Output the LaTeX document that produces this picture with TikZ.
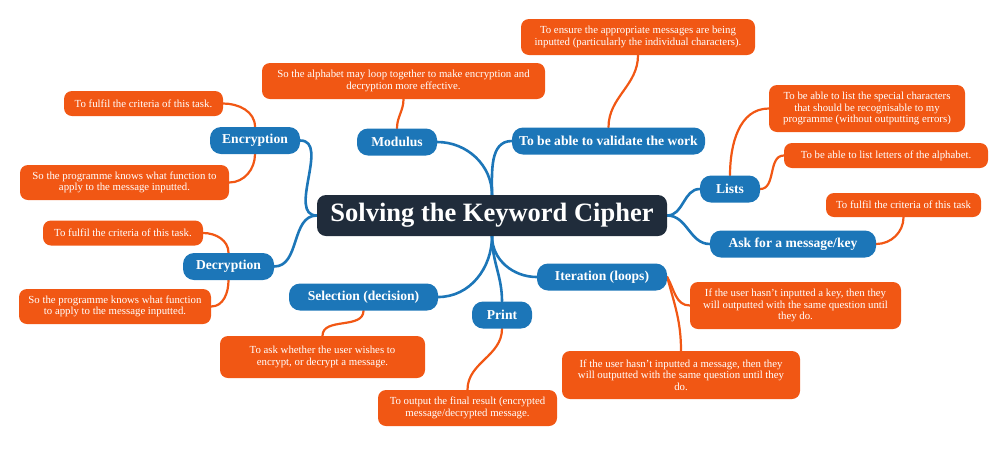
\documentclass[tikz,border=0pt]{standalone}
\usepackage{fontspec}
\setmainfont{Liberation Serif}
\usetikzlibrary{backgrounds}
\definecolor{blu}{RGB}{28,118,184}
\definecolor{orng}{RGB}{241,87,20}
\definecolor{navy}{RGB}{32,44,59}
\tikzset{
  cnode/.style={fill=navy, rounded corners=9pt, text=white, font=\bfseries\fontsize{26.5}{30}\selectfont, minimum width=350pt, minimum height=41pt, inner sep=0pt},
  bnode/.style={fill=blu, rounded corners=11pt, text=white, font=\bfseries\fontsize{13.6}{15}\selectfont, minimum height=27pt, inner sep=0pt},
  onode/.style={fill=orng, rounded corners=8pt, text=white, font=\fontsize{10.8}{11.6}\selectfont, align=center, inner sep=0pt},
  bline/.style={draw=blu, line width=2.6pt, line cap=round},
  oline/.style={draw=orng, line width=2.2pt, line cap=round},
}
\begin{document}
\begin{tikzpicture}[x=1pt,y=-1pt]
\useasboundingbox (0,0) rectangle (1008,448);
% central
\node[cnode] (c) at (492,215.5) {Solving the Keyword Cipher};
% blue nodes
\node[bnode, minimum width=90pt] (enc) at (255,140.5) {Encryption};
\node[bnode, minimum width=91pt] (dec) at (228.5,266.5) {Decryption};
\node[bnode, minimum width=80pt] (mod) at (397,142) {Modulus};
\node[bnode, minimum width=193pt] (val) at (608.5,141) {To be able to validate the work};
\node[bnode, minimum width=60pt] (lists) at (730,189) {Lists};
\node[bnode, minimum width=166pt] (ask) at (793,244) {Ask for a message/key};
\node[bnode, minimum width=130pt] (iter) at (602,277) {Iteration (loops)};
\node[bnode, minimum width=60pt] (print) at (502,315) {Print};
\node[bnode, minimum width=149pt] (sel) at (363.5,297) {Selection (decision)};
% orange nodes
\node[onode, minimum width=159pt, minimum height=25pt] (e1) at (143.5,103.5) {To fulfil the criteria of this task.};
\node[onode, minimum width=209pt, minimum height=35pt] (e2) at (124.5,182.5) {So the programme knows what function to\\apply to the message inputted.};
\node[onode, minimum width=160pt, minimum height=25pt] (d1) at (123,233) {To fulfil the criteria of this task.};
\node[onode, minimum width=192pt, minimum height=35pt] (d2) at (115,306.5) {So the programme knows what function\\to apply to the message inputted.};
\node[onode, minimum width=283pt, minimum height=36pt] (m1) at (403.5,81) {So the alphabet may loop together to make encryption and\\decryption more effective.};
\node[onode, minimum width=234pt, minimum height=36pt] (v1) at (638,37) {To ensure the appropriate messages are being\\inputted (particularly the individual characters).};
\node[onode, minimum width=196pt, minimum height=47pt] (l1) at (867,108.5) {To be able to list the special characters\\that should be recognisable to my\\programme (without outputting errors)};
\node[onode, minimum width=204pt, minimum height=25pt] (l2) at (886,155.5) {To be able to list letters of the alphabet.};
\node[onode, minimum width=155pt, minimum height=24pt] (a1) at (903.5,205) {To fulfil the criteria of this task};
\node[onode, minimum width=211pt, minimum height=47pt] (i1) at (795.5,305.5) {If the user hasn't inputted a key, then they\\will outputted with the same question until\\they do.};
\node[onode, minimum width=238pt, minimum height=48pt] (i2) at (681,375) {If the user hasn't inputted a message, then they\\will outputted with the same question until they\\do.};
\node[onode, minimum width=205pt, minimum height=42pt] (s1) at (322.5,357) {To ask whether the user wishes to\\encrypt, or decrypt a message.};
\node[onode, minimum width=179pt, minimum height=36pt] (p1) at (467.5,408) {To output the final result (encrypted\\message/decrypted message.};
% connectors
\begin{pgfonlayer}{background}
\draw[bline] (c.west) to[out=180,in=0] (enc.east);
\draw[bline] (c.west) to[out=180,in=0] (dec.east);
\draw[bline] (c.north) to[out=90,in=0] (mod.east);
\draw[bline] (c.north) to[out=90,in=180] (val.west);
\draw[bline] (c.east) to[out=0,in=180] (lists.west);
\draw[bline] (c.east) to[out=0,in=180] (ask.west);
\draw[bline] (c.south) to[out=-90,in=180] (iter.west);
\draw[bline] (c.south) to[out=-90,in=90] (print.north);
\draw[bline] (c.south) to[out=-90,in=0] (sel.east);
\draw[oline] (e1.east) to[out=0,in=90] (enc.north);
\draw[oline] (enc.south) to[out=-90,in=0] (e2.east);
\draw[oline] (d1.east) to[out=0,in=90] (dec.north);
\draw[oline] (dec.south) to[out=-90,in=0] (d2.east);
\draw[oline] (mod.north) to[out=90,in=-90] (m1.south);
\draw[oline] (val.north) to[out=90,in=-90] (v1.south);
\draw[oline] (lists.north) to[out=90,in=180] (l1.west);
\draw[oline] (lists.east) to[out=0,in=180] (l2.west);
\draw[oline] (ask.east) to[out=0,in=-90] (a1.south);
\draw[oline] (iter.east) to[out=-60,in=180] (i1.west);
\draw[oline] (iter.east) to[out=-75,in=90] (i2.north);
\draw[oline] (sel.south) to[out=-90,in=90] (s1.north);
\draw[oline] (print.south) to[out=-90,in=90] (p1.north);
\end{pgfonlayer}
\end{tikzpicture}
\end{document}
